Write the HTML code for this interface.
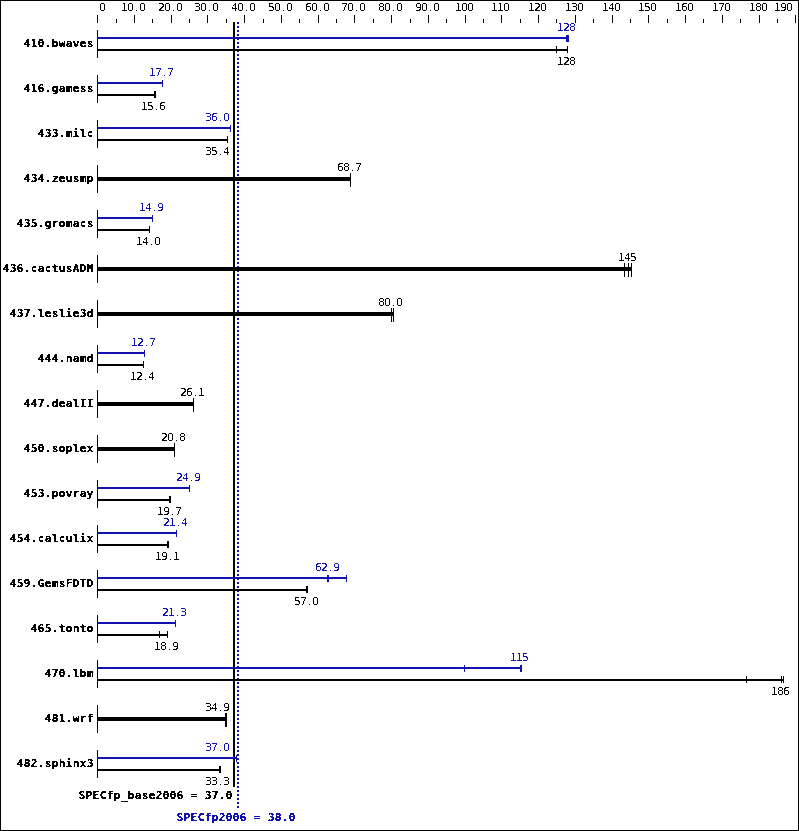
<!DOCTYPE html>
<html><head><meta charset="utf-8"><title>SPECfp2006</title><style>
html,body{margin:0;padding:0;background:#fff;}
body{width:799px;height:831px;position:relative;overflow:hidden;}
i{position:absolute;display:block;}
.frame{position:absolute;left:0;top:0;width:799px;height:831px;box-sizing:border-box;border:1px solid #000;}
svg.t{position:absolute;left:0;top:0;}
text{white-space:pre;}
.s{font-family:'DejaVu Sans',sans-serif;font-size:11px;font-weight:normal;}
.bt{position:absolute;left:0;top:0;width:799px;height:831px;filter:url(#cb);}
.b{position:absolute;white-space:pre;font-family:'DejaVu Sans Mono',monospace;font-size:11px;letter-spacing:0.377px;font-weight:bold;line-height:13px;text-shadow:0.5px 0 0 currentColor;}
</style></head>
<body>
<div class="frame"></div>
<i style="left:97px;top:15px;width:1px;height:8px;background:#000"></i>
<i style="left:116px;top:19px;width:1px;height:4px;background:#000"></i>
<i style="left:134px;top:15px;width:1px;height:8px;background:#000"></i>
<i style="left:152px;top:19px;width:1px;height:4px;background:#000"></i>
<i style="left:171px;top:15px;width:1px;height:8px;background:#000"></i>
<i style="left:189px;top:19px;width:1px;height:4px;background:#000"></i>
<i style="left:207px;top:15px;width:1px;height:8px;background:#000"></i>
<i style="left:226px;top:19px;width:1px;height:4px;background:#000"></i>
<i style="left:244px;top:15px;width:1px;height:8px;background:#000"></i>
<i style="left:263px;top:19px;width:1px;height:4px;background:#000"></i>
<i style="left:281px;top:15px;width:1px;height:8px;background:#000"></i>
<i style="left:299px;top:19px;width:1px;height:4px;background:#000"></i>
<i style="left:318px;top:15px;width:1px;height:8px;background:#000"></i>
<i style="left:336px;top:19px;width:1px;height:4px;background:#000"></i>
<i style="left:354px;top:15px;width:1px;height:8px;background:#000"></i>
<i style="left:373px;top:19px;width:1px;height:4px;background:#000"></i>
<i style="left:391px;top:15px;width:1px;height:8px;background:#000"></i>
<i style="left:410px;top:19px;width:1px;height:4px;background:#000"></i>
<i style="left:428px;top:15px;width:1px;height:8px;background:#000"></i>
<i style="left:446px;top:19px;width:1px;height:4px;background:#000"></i>
<i style="left:465px;top:15px;width:1px;height:8px;background:#000"></i>
<i style="left:483px;top:19px;width:1px;height:4px;background:#000"></i>
<i style="left:501px;top:15px;width:1px;height:8px;background:#000"></i>
<i style="left:520px;top:19px;width:1px;height:4px;background:#000"></i>
<i style="left:538px;top:15px;width:1px;height:8px;background:#000"></i>
<i style="left:556px;top:19px;width:1px;height:4px;background:#000"></i>
<i style="left:575px;top:15px;width:1px;height:8px;background:#000"></i>
<i style="left:593px;top:19px;width:1px;height:4px;background:#000"></i>
<i style="left:612px;top:15px;width:1px;height:8px;background:#000"></i>
<i style="left:630px;top:19px;width:1px;height:4px;background:#000"></i>
<i style="left:648px;top:15px;width:1px;height:8px;background:#000"></i>
<i style="left:667px;top:19px;width:1px;height:4px;background:#000"></i>
<i style="left:685px;top:15px;width:1px;height:8px;background:#000"></i>
<i style="left:703px;top:19px;width:1px;height:4px;background:#000"></i>
<i style="left:722px;top:15px;width:1px;height:8px;background:#000"></i>
<i style="left:740px;top:19px;width:1px;height:4px;background:#000"></i>
<i style="left:759px;top:15px;width:1px;height:8px;background:#000"></i>
<i style="left:777px;top:19px;width:1px;height:4px;background:#000"></i>
<i style="left:795px;top:15px;width:1px;height:8px;background:#000"></i>
<i style="left:233px;top:22px;width:2px;height:765px;background:#000"></i>
<i style="left:237px;top:22px;width:2px;height:786px;background:repeating-linear-gradient(to bottom,#1212b0 0,#1212b0 2px,transparent 2px,transparent 4px)"></i>
<i style="left:97px;top:30px;width:1px;height:28px;background:#000"></i>
<i style="left:97px;top:49px;width:471px;height:2px;background:#000"></i>
<i style="left:556px;top:46px;width:1px;height:7px;background:#000"></i>
<i style="left:567px;top:46px;width:1px;height:7px;background:#000"></i>
<i style="left:97px;top:37px;width:472px;height:2px;background:#1212b0"></i>
<i style="left:566px;top:35px;width:1px;height:7px;background:#1212b0"></i>
<i style="left:567px;top:35px;width:1px;height:7px;background:#1212b0"></i>
<i style="left:568px;top:35px;width:1px;height:7px;background:#1212b0"></i>
<i style="left:97px;top:75px;width:1px;height:28px;background:#000"></i>
<i style="left:97px;top:94px;width:59px;height:2px;background:#000"></i>
<i style="left:154px;top:91px;width:1px;height:7px;background:#000"></i>
<i style="left:155px;top:91px;width:1px;height:7px;background:#000"></i>
<i style="left:97px;top:82px;width:66px;height:2px;background:#1212b0"></i>
<i style="left:162px;top:80px;width:1px;height:7px;background:#1212b0"></i>
<i style="left:97px;top:120px;width:1px;height:28px;background:#000"></i>
<i style="left:97px;top:139px;width:131px;height:2px;background:#000"></i>
<i style="left:227px;top:136px;width:1px;height:7px;background:#000"></i>
<i style="left:97px;top:127px;width:134px;height:2px;background:#1212b0"></i>
<i style="left:230px;top:125px;width:1px;height:7px;background:#1212b0"></i>
<i style="left:97px;top:165px;width:1px;height:28px;background:#000"></i>
<i style="left:97px;top:177px;width:254px;height:4px;background:#000"></i>
<i style="left:350px;top:173px;width:1px;height:14px;background:#000"></i>
<i style="left:97px;top:210px;width:1px;height:28px;background:#000"></i>
<i style="left:97px;top:229px;width:53px;height:2px;background:#000"></i>
<i style="left:149px;top:226px;width:1px;height:7px;background:#000"></i>
<i style="left:97px;top:217px;width:56px;height:2px;background:#1212b0"></i>
<i style="left:152px;top:215px;width:1px;height:7px;background:#1212b0"></i>
<i style="left:97px;top:255px;width:1px;height:28px;background:#000"></i>
<i style="left:97px;top:267px;width:535px;height:4px;background:#000"></i>
<i style="left:624px;top:263px;width:1px;height:14px;background:#000"></i>
<i style="left:628px;top:263px;width:1px;height:14px;background:#000"></i>
<i style="left:631px;top:263px;width:1px;height:14px;background:#000"></i>
<i style="left:97px;top:300px;width:1px;height:28px;background:#000"></i>
<i style="left:97px;top:312px;width:297px;height:4px;background:#000"></i>
<i style="left:391px;top:308px;width:1px;height:14px;background:#000"></i>
<i style="left:393px;top:308px;width:1px;height:14px;background:#000"></i>
<i style="left:97px;top:345px;width:1px;height:28px;background:#000"></i>
<i style="left:97px;top:364px;width:47px;height:2px;background:#000"></i>
<i style="left:143px;top:361px;width:1px;height:7px;background:#000"></i>
<i style="left:97px;top:352px;width:48px;height:2px;background:#1212b0"></i>
<i style="left:144px;top:350px;width:1px;height:7px;background:#1212b0"></i>
<i style="left:97px;top:390px;width:1px;height:28px;background:#000"></i>
<i style="left:97px;top:402px;width:97px;height:4px;background:#000"></i>
<i style="left:193px;top:398px;width:1px;height:14px;background:#000"></i>
<i style="left:97px;top:435px;width:1px;height:28px;background:#000"></i>
<i style="left:97px;top:447px;width:78px;height:4px;background:#000"></i>
<i style="left:174px;top:443px;width:1px;height:14px;background:#000"></i>
<i style="left:97px;top:480px;width:1px;height:28px;background:#000"></i>
<i style="left:97px;top:499px;width:74px;height:2px;background:#000"></i>
<i style="left:169px;top:496px;width:1px;height:7px;background:#000"></i>
<i style="left:170px;top:496px;width:1px;height:7px;background:#000"></i>
<i style="left:97px;top:487px;width:93px;height:2px;background:#1212b0"></i>
<i style="left:189px;top:485px;width:1px;height:7px;background:#1212b0"></i>
<i style="left:97px;top:525px;width:1px;height:28px;background:#000"></i>
<i style="left:97px;top:544px;width:72px;height:2px;background:#000"></i>
<i style="left:167px;top:541px;width:1px;height:7px;background:#000"></i>
<i style="left:168px;top:541px;width:1px;height:7px;background:#000"></i>
<i style="left:97px;top:532px;width:80px;height:2px;background:#1212b0"></i>
<i style="left:176px;top:530px;width:1px;height:7px;background:#1212b0"></i>
<i style="left:97px;top:570px;width:1px;height:28px;background:#000"></i>
<i style="left:97px;top:589px;width:211px;height:2px;background:#000"></i>
<i style="left:306px;top:586px;width:1px;height:7px;background:#000"></i>
<i style="left:307px;top:586px;width:1px;height:7px;background:#000"></i>
<i style="left:97px;top:577px;width:250px;height:2px;background:#1212b0"></i>
<i style="left:327px;top:575px;width:1px;height:7px;background:#1212b0"></i>
<i style="left:328px;top:575px;width:1px;height:7px;background:#1212b0"></i>
<i style="left:346px;top:575px;width:1px;height:7px;background:#1212b0"></i>
<i style="left:97px;top:615px;width:1px;height:28px;background:#000"></i>
<i style="left:97px;top:634px;width:71px;height:2px;background:#000"></i>
<i style="left:159px;top:631px;width:1px;height:7px;background:#000"></i>
<i style="left:167px;top:631px;width:1px;height:7px;background:#000"></i>
<i style="left:97px;top:622px;width:79px;height:2px;background:#1212b0"></i>
<i style="left:175px;top:620px;width:1px;height:7px;background:#1212b0"></i>
<i style="left:97px;top:660px;width:1px;height:28px;background:#000"></i>
<i style="left:97px;top:679px;width:687px;height:2px;background:#000"></i>
<i style="left:746px;top:676px;width:1px;height:7px;background:#000"></i>
<i style="left:781px;top:676px;width:1px;height:7px;background:#000"></i>
<i style="left:783px;top:676px;width:1px;height:7px;background:#000"></i>
<i style="left:97px;top:667px;width:425px;height:2px;background:#1212b0"></i>
<i style="left:464px;top:665px;width:1px;height:7px;background:#1212b0"></i>
<i style="left:520px;top:665px;width:1px;height:7px;background:#1212b0"></i>
<i style="left:521px;top:665px;width:1px;height:7px;background:#1212b0"></i>
<i style="left:97px;top:705px;width:1px;height:28px;background:#000"></i>
<i style="left:97px;top:717px;width:130px;height:4px;background:#000"></i>
<i style="left:225px;top:713px;width:1px;height:14px;background:#000"></i>
<i style="left:226px;top:713px;width:1px;height:14px;background:#000"></i>
<i style="left:97px;top:750px;width:1px;height:28px;background:#000"></i>
<i style="left:97px;top:769px;width:124px;height:2px;background:#000"></i>
<i style="left:219px;top:766px;width:1px;height:7px;background:#000"></i>
<i style="left:220px;top:766px;width:1px;height:7px;background:#000"></i>
<i style="left:97px;top:757px;width:140px;height:2px;background:#1212b0"></i>
<i style="left:233px;top:755px;width:1px;height:7px;background:#1212b0"></i>
<i style="left:236px;top:755px;width:1px;height:7px;background:#1212b0"></i>
<svg class="t" width="799" height="831" viewBox="0 0 799 831">
<defs><filter id="cs" x="0" y="0" width="799" height="831" filterUnits="userSpaceOnUse" color-interpolation-filters="sRGB"><feComponentTransfer><feFuncA type="discrete" tableValues="0 0 0 0 0 1 1 1 1 1"/></feComponentTransfer></filter><filter id="cb" x="0" y="0" width="799" height="831" filterUnits="userSpaceOnUse" color-interpolation-filters="sRGB"><feComponentTransfer><feFuncA type="discrete" tableValues="0 0 0 0 0 0 1 1 1 1"/></feComponentTransfer></filter></defs>
<g filter="url(#cs)">
<text class="s" x="99" y="11" fill="#000">0</text>
<text class="s" x="121 127 135 139" y="11" fill="#000">10.0</text>
<text class="s" x="158 164 172 176" y="11" fill="#000">20.0</text>
<text class="s" x="194 200 208 212" y="11" fill="#000">30.0</text>
<text class="s" x="231 237 245 249" y="11" fill="#000">40.0</text>
<text class="s" x="268 274 282 286" y="11" fill="#000">50.0</text>
<text class="s" x="305 311 319 323" y="11" fill="#000">60.0</text>
<text class="s" x="341 347 355 359" y="11" fill="#000">70.0</text>
<text class="s" x="378 384 392 396" y="11" fill="#000">80.0</text>
<text class="s" x="415 421 429 433" y="11" fill="#000">90.0</text>
<text class="s" x="455 461 467" y="11" fill="#000">100</text>
<text class="s" x="491 497 503" y="11" fill="#000">110</text>
<text class="s" x="528 534 540" y="11" fill="#000">120</text>
<text class="s" x="565 571 577" y="11" fill="#000">130</text>
<text class="s" x="602 608 614" y="11" fill="#000">140</text>
<text class="s" x="638 644 650" y="11" fill="#000">150</text>
<text class="s" x="675 681 687" y="11" fill="#000">160</text>
<text class="s" x="712 718 724" y="11" fill="#000">170</text>
<text class="s" x="749 755 761" y="11" fill="#000">180</text>
<text class="s" x="774 780 786" y="11" fill="#000">190</text>
<text class="s" x="557 563 569" y="65" fill="#000">128</text>
<text class="s" x="557 563 569" y="31" fill="#1212b0">128</text>
<text class="s" x="141 147 155 159" y="110" fill="#000">15.6</text>
<text class="s" x="149 155 163 167" y="76" fill="#1212b0">17.7</text>
<text class="s" x="205 211 219 223" y="155" fill="#000">35.4</text>
<text class="s" x="205 211 219 223" y="121" fill="#1212b0">36.0</text>
<text class="s" x="337 343 351 355" y="171" fill="#000">68.7</text>
<text class="s" x="136 142 150 154" y="245" fill="#000">14.0</text>
<text class="s" x="139 145 153 157" y="211" fill="#1212b0">14.9</text>
<text class="s" x="618 624 630" y="261" fill="#000">145</text>
<text class="s" x="378 384 392 396" y="306" fill="#000">80.0</text>
<text class="s" x="130 136 144 148" y="380" fill="#000">12.4</text>
<text class="s" x="131 137 145 149" y="346" fill="#1212b0">12.7</text>
<text class="s" x="180 186 194 198" y="396" fill="#000">26.1</text>
<text class="s" x="161 167 175 179" y="441" fill="#000">20.8</text>
<text class="s" x="157 163 171 175" y="515" fill="#000">19.7</text>
<text class="s" x="176 182 190 194" y="481" fill="#1212b0">24.9</text>
<text class="s" x="155 161 169 173" y="560" fill="#000">19.1</text>
<text class="s" x="163 169 177 181" y="526" fill="#1212b0">21.4</text>
<text class="s" x="294 300 308 312" y="605" fill="#000">57.0</text>
<text class="s" x="315 321 329 333" y="571" fill="#1212b0">62.9</text>
<text class="s" x="154 160 168 172" y="650" fill="#000">18.9</text>
<text class="s" x="162 168 176 180" y="616" fill="#1212b0">21.3</text>
<text class="s" x="771 777 783" y="695" fill="#000">186</text>
<text class="s" x="510 516 522" y="661" fill="#1212b0">115</text>
<text class="s" x="205 211 219 223" y="711" fill="#000">34.9</text>
<text class="s" x="205 211 219 223" y="785" fill="#000">33.3</text>
<text class="s" x="205 211 219 223" y="751" fill="#1212b0">37.0</text>
</g>
</svg>
<div class="bt">
<span class="b" style="left:23.6px;top:37px;color:#000">410.bwaves</span>
<span class="b" style="left:23.6px;top:82px;color:#000">416.gamess</span>
<span class="b" style="left:37.6px;top:127px;color:#000">433.milc</span>
<span class="b" style="left:23.6px;top:172px;color:#000">434.zeusmp</span>
<span class="b" style="left:16.6px;top:217px;color:#000">435.gromacs</span>
<span class="b" style="left:2.6px;top:262px;color:#000">436.cactusADM</span>
<span class="b" style="left:9.6px;top:307px;color:#000">437.leslie3d</span>
<span class="b" style="left:37.6px;top:352px;color:#000">444.namd</span>
<span class="b" style="left:23.6px;top:397px;color:#000">447.dealII</span>
<span class="b" style="left:23.6px;top:442px;color:#000">450.soplex</span>
<span class="b" style="left:23.6px;top:487px;color:#000">453.povray</span>
<span class="b" style="left:9.6px;top:532px;color:#000">454.calculix</span>
<span class="b" style="left:9.6px;top:577px;color:#000">459.GemsFDTD</span>
<span class="b" style="left:30.6px;top:622px;color:#000">465.tonto</span>
<span class="b" style="left:44.6px;top:667px;color:#000">470.lbm</span>
<span class="b" style="left:44.6px;top:712px;color:#000">481.wrf</span>
<span class="b" style="left:16.6px;top:757px;color:#000">482.sphinx3</span>
<span class="b" style="left:78.6px;top:789px;color:#000">SPECfp_base2006 = 37.0</span>
<span class="b" style="left:176.6px;top:811px;color:#1212b0">SPECfp2006 = 38.0</span>
</div>
</body></html>
